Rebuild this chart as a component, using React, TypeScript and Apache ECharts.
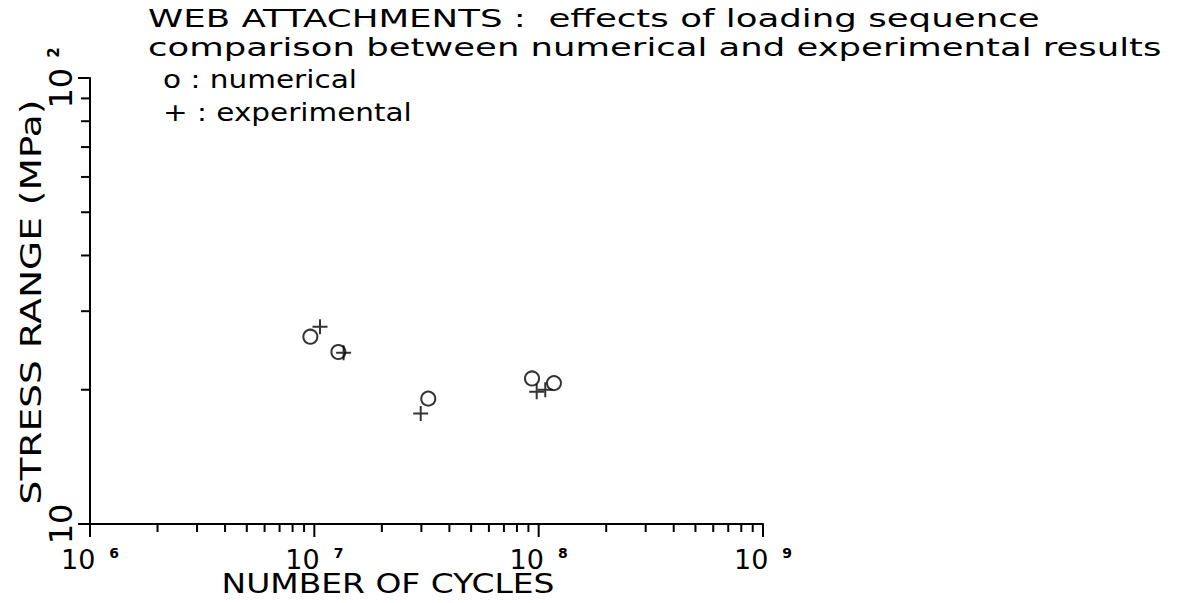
import React, { useEffect, useRef } from "react";
import * as echarts from "echarts";

// ---- data ----
const numericalCycles = [9.6e6, 1.28e7, 3.22e7, 9.34e7, 1.17e8];
const numericalStress = [26.3, 24.3, 19.1, 21.2, 20.7];
const experimentalCycles = [1.06e7, 1.35e7, 2.98e7, 9.8e7, 1.07e8];
const experimentalStress = [27.7, 24.2, 17.7, 19.8, 20.0];

// ---- axis ticks ----
const xMajorTicks = [1e6, 1e7, 1e8, 1e9];
const xMinorTicks = [
  2e6, 3e6, 4e6, 5e6, 6e6, 7e6, 8e6, 9e6,
  2e7, 3e7, 4e7, 5e7, 6e7, 7e7, 8e7, 9e7,
  2e8, 3e8, 4e8, 5e8, 6e8, 7e8, 8e8, 9e8,
];
const yMajorTicks = [10, 100];
const yMinorTicks = [20, 30, 40, 50, 60, 70, 80, 90];
const yTickLabels = [
  { value: 10, text: "{b|10}" },
  { value: 100, text: "{b|10}{s|2}" },
];

// ---- texts ----
const titleLine1 = "WEB ATTACHMENTS :  effects of loading sequence";
const titleLine2 = "comparison between numerical and experimental results";
const legendNumerical = "o : numerical";
const legendExperimental = "+ : experimental";
const xAxisName = "NUMBER OF CYCLES";
const yAxisName = "STRESS RANGE (MPa)";

const FONT = "DejaVu Sans";

function measure(text: string, size: number): number {
  const c = document.createElement("canvas").getContext("2d");
  if (!c) return text.length * size * 0.6;
  c.font = `${size}px '${FONT}'`;
  return c.measureText(text).width;
}

function stretchedText(
  text: string,
  size: number,
  x: number,
  y: number,
  targetWidth: number,
  align: string,
  rotation = 0
) {
  const w = measure(text, size);
  const s = targetWidth / w;
  return {
    type: "text",
    x,
    y,
    rotation,
    scaleX: s,
    scaleY: 1,
    silent: true,
    style: {
      text,
      fontSize: size,
      fontFamily: FONT,
      fill: "#000",
      textAlign: align,
      align,
      textVerticalAlign: "middle",
      verticalAlign: "middle",
    },
  };
}

function tickSeries(values: number[][], dx: number, dy: number) {
  return {
    type: "custom",
    silent: true,
    clip: false,
    z: 5,
    data: values,
    renderItem: (_params: any, api: any) => {
      const p = api.coord([api.value(0), api.value(1)]);
      return {
        type: "line",
        shape: { x1: p[0], y1: p[1], x2: p[0] + dx, y2: p[1] + dy },
        style: { stroke: "#000", lineWidth: 2 },
      };
    },
  };
}

export default function App() {
  const ref = useRef<HTMLDivElement>(null);

  useEffect(() => {
    if (!ref.current) return;
    const chart = echarts.init(ref.current, null, { renderer: "svg" });

    const numData = numericalCycles.map((c, i) => [c, numericalStress[i]]);
    const expData = experimentalCycles.map((c, i) => [c, experimentalStress[i]]);

    chart.setOption({
      animation: false,
      backgroundColor: "#fff",
      grid: {
        left: 90,
        top: 78,
        right: 415,
        bottom: 79,
        containLabel: false,
        outerBoundsMode: "none",
      },
      xAxis: {
        type: "log",
        logBase: 10,
        min: 1e6,
        max: 1e9,
        axisLine: { show: true, lineStyle: { color: "#000", width: 2 } },
        axisTick: { show: false },
        minorTick: { show: false },
        splitLine: { show: false },
        axisLabel: {
          margin: 22,
          formatter: (v: number) => `{b|10}{s|${Math.round(Math.log10(v))}}`,
          rich: {
            b: { fontSize: 27, fontFamily: FONT, color: "#000" },
            s: {
              fontSize: 14,
              fontFamily: FONT,
              fontWeight: "bold",
              color: "#000",
              verticalAlign: "top",
              padding: [0, 0, 0, 14],
            },
          },
        },
      },
      yAxis: {
        type: "log",
        logBase: 10,
        min: 10,
        max: 100,
        axisLine: { show: true, lineStyle: { color: "#000", width: 2 } },
        axisTick: { show: false },
        minorTick: { show: false },
        splitLine: { show: false },
        axisLabel: { show: false },
      },
      series: [
        tickSeries(xMajorTicks.map((v) => [v, 10]), 0, 13),
        tickSeries(xMinorTicks.map((v) => [v, 10]), 0, 8),
        tickSeries(yMajorTicks.map((v) => [1e6, v]), -12, 0),
        tickSeries(yMinorTicks.map((v) => [1e6, v]), -9, 0),
        {
          name: "numerical",
          type: "scatter",
          silent: true,
          symbol: "circle",
          symbolSize: 14,
          itemStyle: { color: "rgba(0,0,0,0)", borderColor: "#000", borderWidth: 2 },
          data: numData,
        },
        {
          name: "experimental",
          type: "scatter",
          silent: true,
          symbol: "path://M8,0V16M0,8H16",
          symbolSize: 15,
          itemStyle: { color: "rgba(0,0,0,0)", borderColor: "#000", borderWidth: 2 },
          data: expData,
        },
      ],
    });

    // y-axis tick labels placed through the axis scale (rotated, like the plot)
    const yLabelGraphics = yTickLabels.map((t) => {
      const p = chart.convertToPixel({ xAxisIndex: 0, yAxisIndex: 0 }, [1e6, t.value]) as number[];
      return {
        type: "text",
        x: p[0] - 14,
        y: p[1],
        rotation: Math.PI / 2,
        silent: true,
        style: {
          text: t.text,
          fill: "#000",
          align: "center",
          textAlign: "center",
          verticalAlign: "bottom",
          textVerticalAlign: "bottom",
          rich: {
            b: { fontSize: 32, fontFamily: FONT, fill: "#000", color: "#000", lineHeight: 30 },
            s: {
              fontSize: 15,
              fontFamily: FONT,
              fontWeight: "bold",
              fill: "#000",
              color: "#000",
              verticalAlign: "top",
              lineHeight: 30,
              padding: [0, 0, 0, 10],
            },
          },
        },
      };
    });

    chart.setOption({
      graphic: [
        stretchedText(titleLine1, 25, 148, 18, 892, "left"),
        stretchedText(titleLine2, 25, 148, 47, 1014, "left"),
        stretchedText(legendNumerical, 25, 163, 79, 194, "left"),
        stretchedText(legendExperimental, 25, 163, 112, 249, "left"),
        stretchedText(xAxisName, 27, 388, 584, 333, "center"),
        stretchedText(yAxisName, 28, 31, 302, 405, "center", Math.PI / 2),
        ...yLabelGraphics,
      ],
    });

    return () => chart.dispose();
  }, []);

  return (
    <div
      ref={ref}
      style={{ position: "fixed", left: 0, top: 0, width: 1178, height: 603, background: "#fff" }}
    />
  );
}
